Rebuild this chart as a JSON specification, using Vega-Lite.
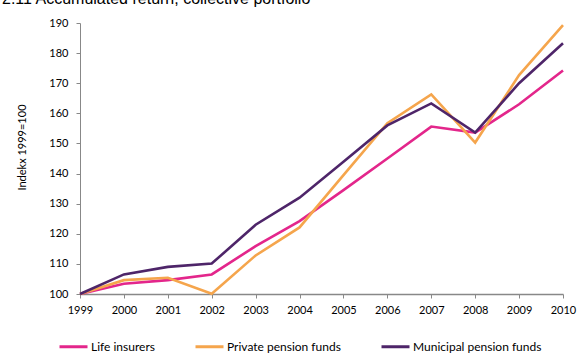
{
  "$schema": "https://vega.github.io/schema/vega-lite/v6.json",
  "width": 483,
  "height": 271,
  "autosize": {"type": "none"},
  "padding": {"left": 80, "top": 23, "right": 16, "bottom": 62},
  "background": "white",
  "title": {
    "text": "2.11 Accumulated return, collective portfolio",
    "anchor": "start",
    "frame": "group",
    "dx": -78,
    "offset": -3,
    "baseline": "alphabetic",
    "font": "Liberation Sans",
    "fontSize": 16,
    "fontWeight": "normal",
    "color": "#000000"
  },
  "config": {
    "view": {"stroke": null},
    "font": "Lato"
  },
  "data": {
    "values": [
      {"year": "1999", "series": "Life insurers", "value": 100},
      {"year": "2000", "series": "Life insurers", "value": 103.4},
      {"year": "2001", "series": "Life insurers", "value": 104.6},
      {"year": "2002", "series": "Life insurers", "value": 106.5},
      {"year": "2003", "series": "Life insurers", "value": 115.9},
      {"year": "2004", "series": "Life insurers", "value": 124.2},
      {"year": "2005", "series": "Life insurers", "value": 134.5},
      {"year": "2006", "series": "Life insurers", "value": 145.0},
      {"year": "2007", "series": "Life insurers", "value": 155.6},
      {"year": "2008", "series": "Life insurers", "value": 153.6},
      {"year": "2009", "series": "Life insurers", "value": 163.0},
      {"year": "2010", "series": "Life insurers", "value": 174.2},
      {"year": "1999", "series": "Private pension funds", "value": 100},
      {"year": "2000", "series": "Private pension funds", "value": 104.6},
      {"year": "2001", "series": "Private pension funds", "value": 105.4},
      {"year": "2002", "series": "Private pension funds", "value": 100.1},
      {"year": "2003", "series": "Private pension funds", "value": 112.8},
      {"year": "2004", "series": "Private pension funds", "value": 122.1},
      {"year": "2005", "series": "Private pension funds", "value": 139.5},
      {"year": "2006", "series": "Private pension funds", "value": 156.7},
      {"year": "2007", "series": "Private pension funds", "value": 166.3},
      {"year": "2008", "series": "Private pension funds", "value": 150.3},
      {"year": "2009", "series": "Private pension funds", "value": 172.7},
      {"year": "2010", "series": "Private pension funds", "value": 189.3},
      {"year": "1999", "series": "Municipal pension funds", "value": 100},
      {"year": "2000", "series": "Municipal pension funds", "value": 106.5},
      {"year": "2001", "series": "Municipal pension funds", "value": 109.0},
      {"year": "2002", "series": "Municipal pension funds", "value": 110.1},
      {"year": "2003", "series": "Municipal pension funds", "value": 123.0},
      {"year": "2004", "series": "Municipal pension funds", "value": 132.0},
      {"year": "2005", "series": "Municipal pension funds", "value": 143.9},
      {"year": "2006", "series": "Municipal pension funds", "value": 156.0},
      {"year": "2007", "series": "Municipal pension funds", "value": 163.3},
      {"year": "2008", "series": "Municipal pension funds", "value": 153.6},
      {"year": "2009", "series": "Municipal pension funds", "value": 170.0},
      {"year": "2010", "series": "Municipal pension funds", "value": 183.3}
    ]
  },
  "mark": {"type": "line", "strokeWidth": 2.6, "strokeJoin": "miter"},
  "encoding": {
    "x": {
      "field": "year",
      "type": "ordinal",
      "scale": {"type": "point", "padding": 0},
      "axis": {
        "title": null,
        "labelAngle": 0,
        "labelFont": "Lato",
        "labelFontSize": 11,
        "labelColor": "#000000",
        "labelPadding": 6,
        "domainColor": "#888888",
        "domainWidth": 1.5,
        "tickColor": "#888888",
        "tickSize": 4,
        "grid": false
      }
    },
    "y": {
      "field": "value",
      "type": "quantitative",
      "scale": {"domain": [100, 190], "nice": false, "zero": false},
      "axis": {
        "title": "Indekx 1999=100",
        "titleFont": "Lato",
        "titleFontSize": 11,
        "titleFontWeight": "normal",
        "titleColor": "#000000",
        "titleX": -53,
        "titleY": 124,
        "values": [100, 110, 120, 130, 140, 150, 160, 170, 180, 190],
        "labelFont": "Lato",
        "labelFontSize": 11,
        "labelColor": "#000000",
        "labelPadding": 8,
        "domainColor": "#888888",
        "tickColor": "#888888",
        "tickSize": 4,
        "grid": false
      }
    },
    "color": {
      "field": "series",
      "type": "nominal",
      "sort": ["Life insurers", "Private pension funds", "Municipal pension funds"],
      "scale": {
        "domain": ["Life insurers", "Private pension funds", "Municipal pension funds"],
        "range": ["#E3268B", "#F5A54C", "#4E2569"]
      },
      "legend": {
        "title": null,
        "orient": "none",
        "direction": "horizontal",
        "legendX": -22,
        "legendY": 308,
        "symbolType": "stroke",
        "symbolSize": 784,
        "symbolStrokeWidth": 3,
        "labelFont": "Lato",
        "labelFontSize": 12,
        "labelColor": "#000000",
        "labelOffset": 2,
        "columnPadding": 34
      }
    }
  }
}
